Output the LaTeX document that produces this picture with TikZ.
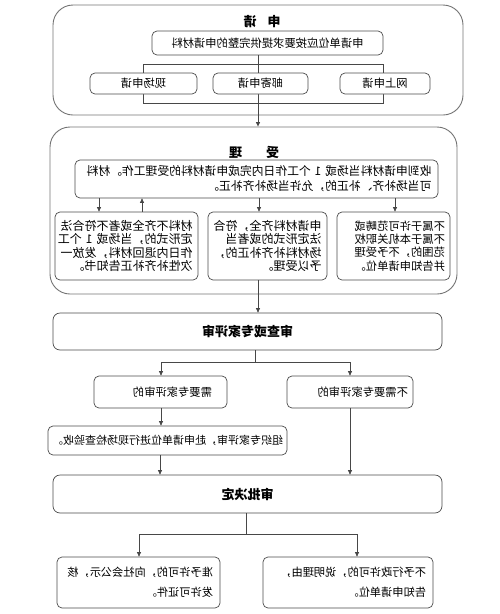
\documentclass[tikz,border=0pt]{standalone}
\usepackage{fontspec}
\newfontfamily\cjk{Noto Sans CJK SC}
\usetikzlibrary{arrows.meta}
\tikzset{
  ln/.style={draw=black!72, line width=0.7pt},
  arr/.style={ln, -{Triangle[length=4.5pt,width=4pt]}},
  outerbox/.style={draw=black!55, line width=0.9pt, rounded corners=20pt, inner sep=0pt},
  bx/.style={draw=black!70, line width=0.7pt, fill=white, rounded corners=5pt,
    inner sep=0pt, font=\cjk\fontsize{11.3}{13.3}\selectfont},
  bxa/.style={bx, align=left},
  big/.style={bx, rounded corners=7pt, font=\cjk\bfseries\fontsize{13}{15}\selectfont},
  ttl/.style={font=\cjk\bfseries\fontsize{13}{15}\selectfont, inner sep=0pt}
}
\begin{document}
\begin{tikzpicture}[x=1pt,y=-1pt]
\useasboundingbox (0,0) rectangle (500,614);
\begin{scope}[xshift=500pt, xscale=-1, transform shape]
% ---------- 申请 ----------
\node[outerbox, minimum width=410pt, minimum height=110pt] (sq) at (242,60) {};
\node[outerbox, minimum width=407pt, minimum height=167pt] (sl) at (246.5,210.5) {};
\node[ttl] (t1) at (238,22) {申\hspace{11pt}请};
\node[ttl] (t2) at (246,152) {受\hspace{24pt}理};
\node[bx, minimum width=231pt, minimum height=24pt] (a0) at (232.5,43) {申请单位应按要求提供完整的申请材料};
\coordinate (bl) at (117,64);
\coordinate (br) at (357,103);
\draw[ln] (bl) rectangle (br);
\draw[arr] (a0.south -| 242,0) -- (sl.north -| 242,0);
\node[bx, minimum width=90pt, minimum height=21pt] (r1) at (115,83.5) {网上申请};
\node[bx, minimum width=95pt, minimum height=21pt] (r2) at (239.5,83.5) {邮寄申请};
\node[bx, minimum width=107pt, minimum height=21pt] (r3) at (356.5,83.5) {现场申请};
% ---------- 受理 ----------
\node[bxa, text width=350pt, inner xsep=6.5pt, minimum height=38pt,
  font=\cjk\fontsize{11.8}{15}\selectfont] (b0) at (243.5,179)
  {收到申请材料当场或~1~个工作日内完成申请材料的受理工作。材料\\可当场补齐、补正的，允许当场补齐补正。};
\node[bxa, text width=132pt, inner xsep=5.5pt, minimum height=68pt,
  font=\cjk\fontsize{12}{13.3}\selectfont] (b1) at (373.5,246)
  {材料不齐全或者不符合法\\定形式的，当场或~1~个工\\作日内退回材料，发放一\\次性补齐补正告知书。};
\node[bxa, text width=108pt, inner xsep=5.5pt, minimum height=68pt,
  font=\cjk\fontsize{12}{13.3}\selectfont] (b2) at (232.5,246)
  {申请材料齐全，符合\\法定形式的或者当\\场材料补齐补正的，\\予以受理。};
\node[bxa, text width=103pt, inner xsep=5pt, minimum height=68pt] (b3) at (106.5,246)
  {不属于许可范畴或\\不属于本机关职权\\范围的，不予受理\\并告知申请单位。};
\draw[arr] (b0.south -| 401,0) -- (b1.north -| 401,0);
\draw[arr] (b1.north -| 358,0) -- (b0.south -| 358,0);
\draw[arr] (b0.south -| 241,0) -- (b2.north -| 241,0);
\draw[arr] (b0.south -| 105,0) -- (b3.north -| 105,0);
% ---------- 审查 ----------
\node[big, minimum width=389pt, minimum height=37pt] (c0) at (252.5,331.5) {审查或专家评审};
\draw[arr] (b2.south -| 242,0) -- (c0.north -| 242,0);
\node[bxa, text width=103pt, inner xsep=15pt, minimum height=32pt] (c1) at (339.5,392) {需要专家评审的};
\node[bxa, text width=116pt, inner xsep=5pt, minimum height=32pt] (c2) at (150,392) {不需要专家评审的};
\coordinate (f1) at (245,362);
\draw[ln] (c0.south -| f1) -- (f1);
\draw[arr] (f1) -| (c1.north -| 339,0);
\draw[arr] (f1) -| (c2.north -| 150,0);
\node[bx, minimum width=239pt, minimum height=29pt,
  font=\cjk\fontsize{11}{13}\selectfont] (c3) at (332.5,440.5) {组织专家评审，赴申请单位进行现场检查验收。};
\draw[arr] (c1.south -| 339,0) -- (c3.north -| 339,0);
% ---------- 审批决定 ----------
\node[big, minimum width=389pt, minimum height=38pt] (d0) at (252.5,494) {审批决定};
\draw[arr] (c3.south -| 340,0) -- (d0.north -| 340,0);
\draw[arr] (c2.south -| 150,0) -- (d0.north -| 150,0);
\coordinate (f2) at (254,534);
\draw[ln] (d0.south -| f2) -- (f2);
\node[bxa, text width=149pt, inner xsep=7pt, minimum height=51pt,
  font=\cjk\fontsize{11.2}{20}\selectfont] (e1) at (361.5,582.5)
  {准予许可的，向社会公示，核\\发许可证件。};
\node[bxa, text width=156pt, inner xsep=7pt, minimum height=51pt,
  font=\cjk\fontsize{11.2}{20}\selectfont] (e2) at (152,582.5)
  {不予行政许可的，说明理由，\\告知申请单位。};
\draw[arr] (f2) -| (e1.north -| 361,0);
\draw[arr] (f2) -| (e2.north -| 143,0);
\end{scope}
\end{tikzpicture}
\end{document}
